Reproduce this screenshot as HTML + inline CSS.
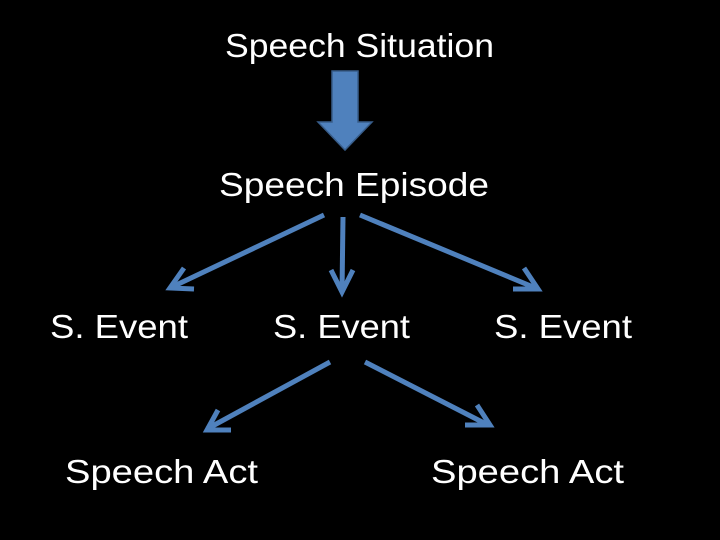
<!DOCTYPE html>
<html><head><style>html,body{margin:0;padding:0;background:#000;}svg{display:block}</style></head>
<body>
<svg width="720" height="540" xmlns="http://www.w3.org/2000/svg">
<rect width="720" height="540" fill="#000"/>
<g fill="#fff" font-family="Liberation Sans, sans-serif" font-size="33">
<text x="225" y="57" textLength="269" lengthAdjust="spacingAndGlyphs">Speech Situation</text>
<text x="219" y="196" textLength="270" lengthAdjust="spacingAndGlyphs">Speech Episode</text>
<text x="50" y="338" textLength="138" lengthAdjust="spacingAndGlyphs">S. Event</text>
<text x="273" y="338" textLength="137" lengthAdjust="spacingAndGlyphs">S. Event</text>
<text x="494" y="338" textLength="138" lengthAdjust="spacingAndGlyphs">S. Event</text>
<text x="65" y="483" textLength="193" lengthAdjust="spacingAndGlyphs">Speech Act</text>
<text x="431" y="483" textLength="193" lengthAdjust="spacingAndGlyphs">Speech Act</text>
</g>
<polygon points="332,71 358,71 358,122 372,122 345,150 318,122 332,122" fill="#4f81bd" stroke="#385d8a" stroke-width="1.5"/>
<g stroke="#4f81bd" stroke-width="5" fill="none" stroke-linecap="butt" stroke-linejoin="miter">
<line x1="324" y1="215" x2="172" y2="287"/>
<polyline points="184,268 170,288 194,289"/>
<line x1="343" y1="217" x2="342" y2="292"/>
<polyline points="331,270 342,292 353,270"/>
<line x1="360" y1="215" x2="538" y2="289"/>
<polyline points="513,289 538,289 524,268"/>
<line x1="330" y1="362" x2="207" y2="429"/>
<polyline points="218,410 207,430 231,430"/>
<line x1="365" y1="362" x2="488" y2="425"/>
<polyline points="465,425 490,425 477,405"/>
</g>
</svg>
</body></html>
